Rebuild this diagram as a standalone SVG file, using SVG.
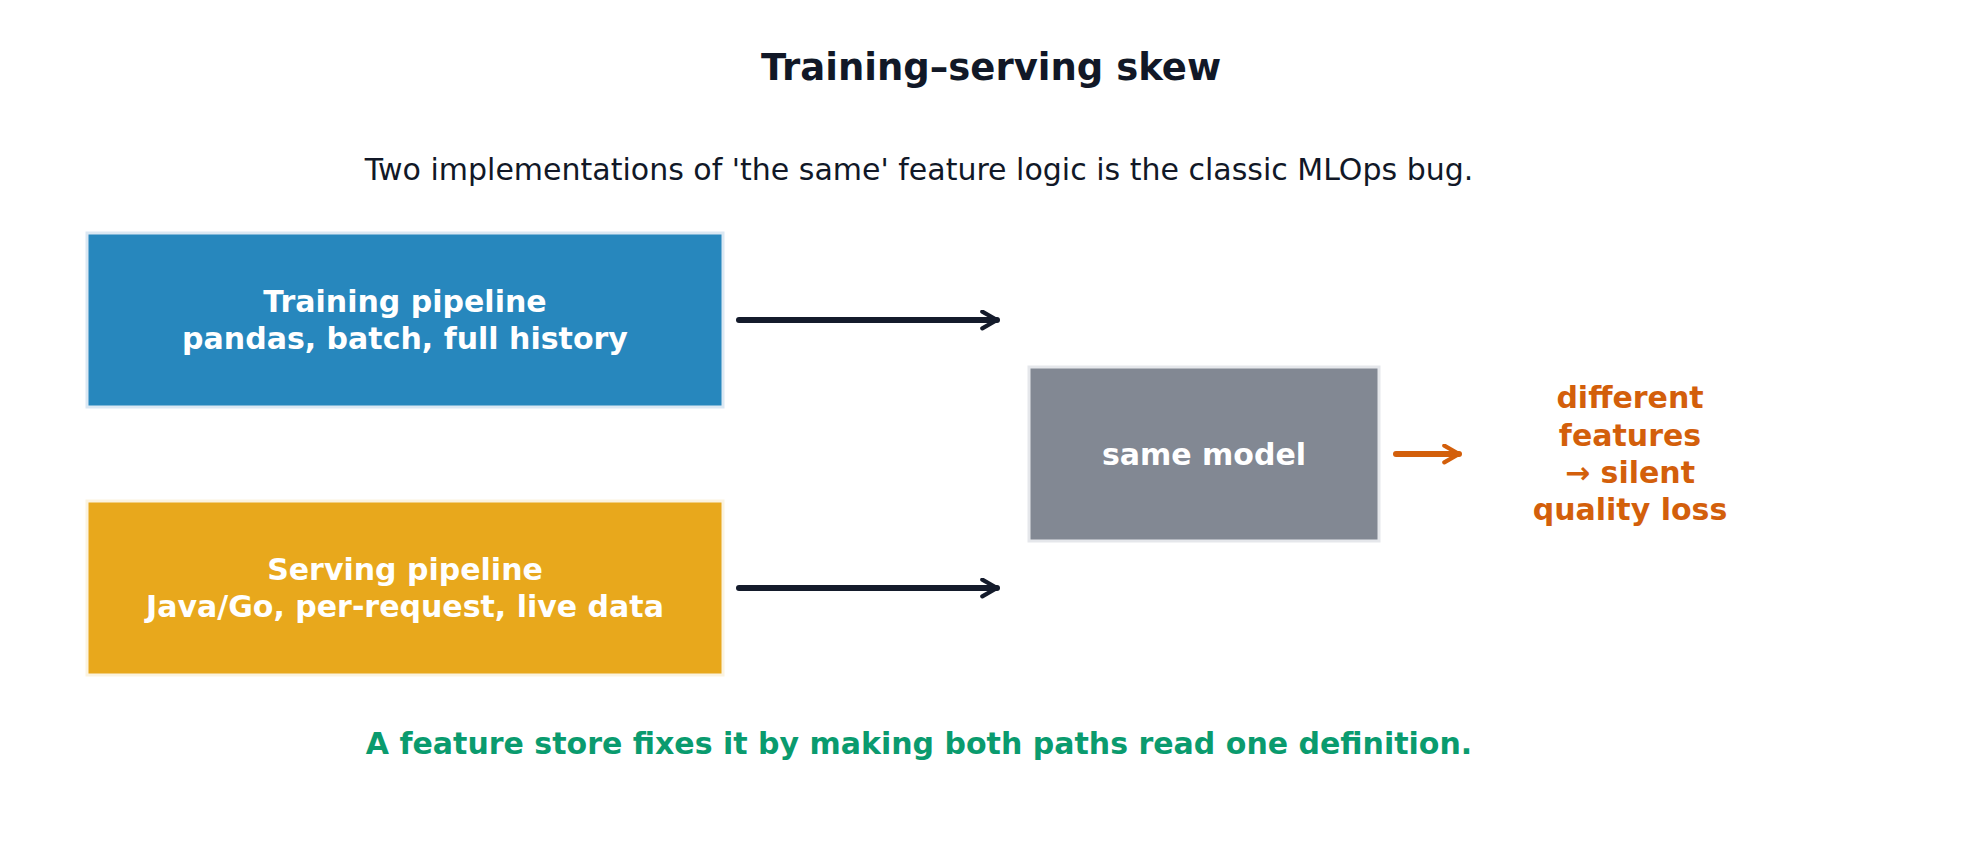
<svg xmlns="http://www.w3.org/2000/svg" width="1982" height="862" viewBox="0 0 1982 862">
<style>
text{font-family:"DejaVu Sans",sans-serif;text-anchor:middle;dominant-baseline:central}
.b{font-weight:bold}
.w{fill:#fff;font-weight:bold;font-size:30px}
.o{fill:#d35f0b;font-weight:bold;font-size:30px}
.c{stroke:#141b2b;stroke-width:6;stroke-linecap:round;fill:none}
</style>
<defs>
<marker id="ah" viewBox="0 0 10 10" refX="8" refY="5" markerWidth="3.5" markerHeight="3.5" orient="auto" markerUnits="strokeWidth"><path d="M1,1 L8,5 L1,9" fill="none" stroke="context-stroke" stroke-width="2" stroke-linecap="round" stroke-linejoin="round"/></marker>
<marker id="ahk" viewBox="0 0 10 10" refX="8" refY="5" markerWidth="3.5" markerHeight="3.5" orient="auto" markerUnits="strokeWidth"><path d="M1,1 L8,5 L1,9" fill="none" stroke="#141b2b" stroke-width="2" stroke-linecap="round" stroke-linejoin="round"/></marker>
<marker id="aho" viewBox="0 0 10 10" refX="8" refY="5" markerWidth="3.5" markerHeight="3.5" orient="auto" markerUnits="strokeWidth"><path d="M1,1 L8,5 L1,9" fill="none" stroke="#d35f0b" stroke-width="2" stroke-linecap="round" stroke-linejoin="round"/></marker>
</defs>
<rect width="1982" height="862" fill="#fff"/>
<text x="991" y="67" class="b" style="font-size:37px;fill:#111827">Training–serving skew</text>
<text x="919" y="169" style="font-size:30px;fill:#111827">Two implementations of 'the same' feature logic is the classic MLOps bug.</text>
<g id="training">
<rect x="87" y="233" width="636" height="174" fill="#2787bd" stroke="#dbe8f3" stroke-width="3"/>
<text x="405" y="301" class="w">Training pipeline</text>
<text x="405" y="338" class="w">pandas, batch, full history</text>
</g>
<g id="serving">
<rect x="87" y="501" width="636" height="174" fill="#e8a81c" stroke="#fbf3e0" stroke-width="3"/>
<text x="405" y="569" class="w">Serving pipeline</text>
<text x="405" y="606" class="w">Java/Go, per-request, live data</text>
</g>
<g id="model">
<rect x="1029" y="367" width="350" height="174" fill="#828893" stroke="#e5e7eb" stroke-width="3"/>
<text x="1204" y="454" class="w">same model</text>
</g>
<g id="outcome">
<text x="1630" y="397" class="o">different</text>
<text x="1630" y="435" class="o">features</text>
<text x="1630" y="472" class="o">→ silent</text>
<text x="1630" y="509" class="o">quality loss</text>
</g>
<g id="connectors">
<path class="c" d="M739,320 H997" marker-end="url(#ahk)"/>
<path class="c" d="M739,588 H997" marker-end="url(#ahk)"/>
<path class="c" d="M1396,454 H1459" style="stroke:#d35f0b" marker-end="url(#aho)"/>
</g>
<text x="919" y="743" class="b" style="font-size:30px;fill:#0a9b6e">A feature store fixes it by making both paths read one definition.</text>
</svg>
